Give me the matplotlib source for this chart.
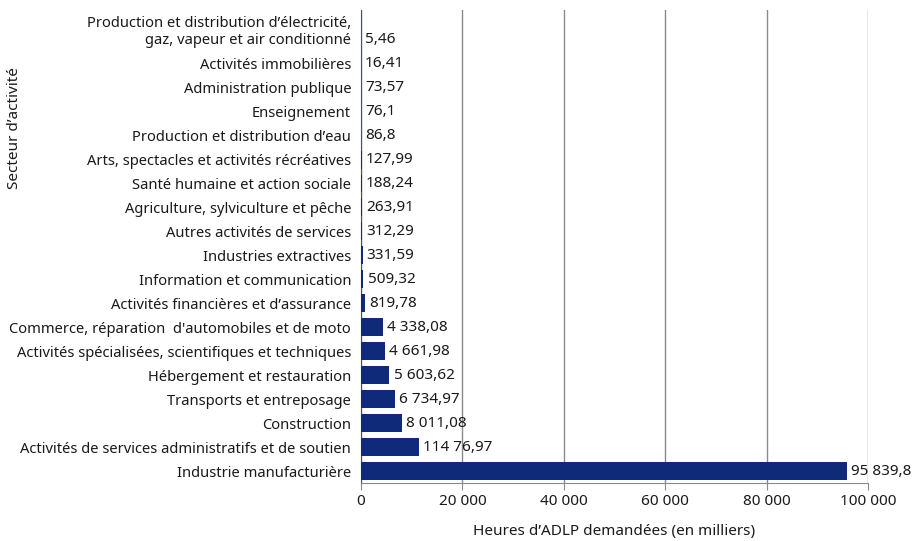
import matplotlib.pyplot as plt
import matplotlib.transforms as mtransforms
import numpy as np

plt.rcParams['font.family'] = ['Noto Sans', 'DejaVu Sans']

# Sectors from bottom to top, with hours requested (thousands)
secteurs = [
    "Industrie manufacturière",
    "Activités de services administratifs et de soutien",
    "Construction",
    "Transports et entreposage",
    "Hébergement et restauration",
    "Activités spécialisées, scientifiques et techniques",
    "Commerce, réparation  d'automobiles et de moto",
    "Activités financières et d’assurance",
    "Information et communication",
    "Industries extractives",
    "Autres activités de services",
    "Agriculture, sylviculture et pêche",
    "Santé humaine et action sociale",
    "Arts, spectacles et activités récréatives",
    "Production et distribution d’eau",
    "Enseignement",
    "Administration publique",
    "Activités immobilières",
    "Production et distribution d’électricité,\ngaz, vapeur et air conditionné",
]
heures = [95839.8, 11476.97, 8011.08, 6734.97, 5603.62, 4661.98, 4338.08,
          819.78, 509.32, 331.59, 312.29, 263.91, 188.24, 127.99, 86.8,
          76.1, 73.57, 16.41, 5.46]
etiquettes = ["95 839,8", "114 76,97", "8 011,08", "6 734,97", "5 603,62",
              "4 661,98", "4 338,08", "819,78", "509,32", "331,59", "312,29",
              "263,91", "188,24", "127,99", "86,8", "76,1", "73,57", "16,41",
              "5,46"]
xticks = [0, 20000, 40000, 60000, 80000, 100000]
xtick_labels = ["0", "20 000", "40 000", "60 000", "80 000", "100 000"]

navy = "#0e2a78"
grid_gray = "#8a8a8a"
txt = "#1a1a1a"
fs = 11

fig = plt.figure(figsize=(9.16, 5.41), dpi=100)
ax = fig.add_axes([0.394, 0.107, 0.554, 0.875])

y = np.arange(len(secteurs))
ax.barh(y, heures, height=0.75, color=navy, zorder=3)

for yi, v, lab in zip(y, heures, etiquettes):
    ax.annotate(lab, (v, yi), xytext=(3, 0), textcoords="offset points",
                va="center", ha="left", fontsize=fs, color=txt, zorder=4)

ax.set_xlim(0, 100000)
ax.set_ylim(-0.5, 19.25)
ax.set_xticks(xticks)
ax.set_xticklabels(xtick_labels, fontsize=fs, color=txt)
ax.set_yticks(y)
ax.set_yticklabels(secteurs, fontsize=10.6, color=txt, linespacing=1.15)
ax.tick_params(axis="y", length=0, pad=7)
ax.tick_params(axis="x", length=5, color=grid_gray, pad=3)

# two-line label: keep its second line level with the bar
top_label = ax.get_yticklabels()[-1]
top_label.set_transform(top_label.get_transform() +
                        mtransforms.ScaledTranslation(0, 7.5 / 72, fig.dpi_scale_trans))

ax.grid(axis="x", color=grid_gray, linewidth=1, zorder=0)
for s in ["top", "right"]:
    ax.spines[s].set_visible(False)
ax.spines["bottom"].set_color(grid_gray)
ax.spines["left"].set_color("#4a4f6a")

fig.text(614 / 916, 1 - 531 / 541, "Heures d’ADLP demandées (en milliers)",
         ha="center", va="center", fontsize=fs, color=txt)
fig.text(15 / 916, 1 - 128 / 541, "Secteur d’activité", rotation=90,
         ha="center", va="center", fontsize=fs, color=txt)

fig.savefig("out.png", dpi=100)
